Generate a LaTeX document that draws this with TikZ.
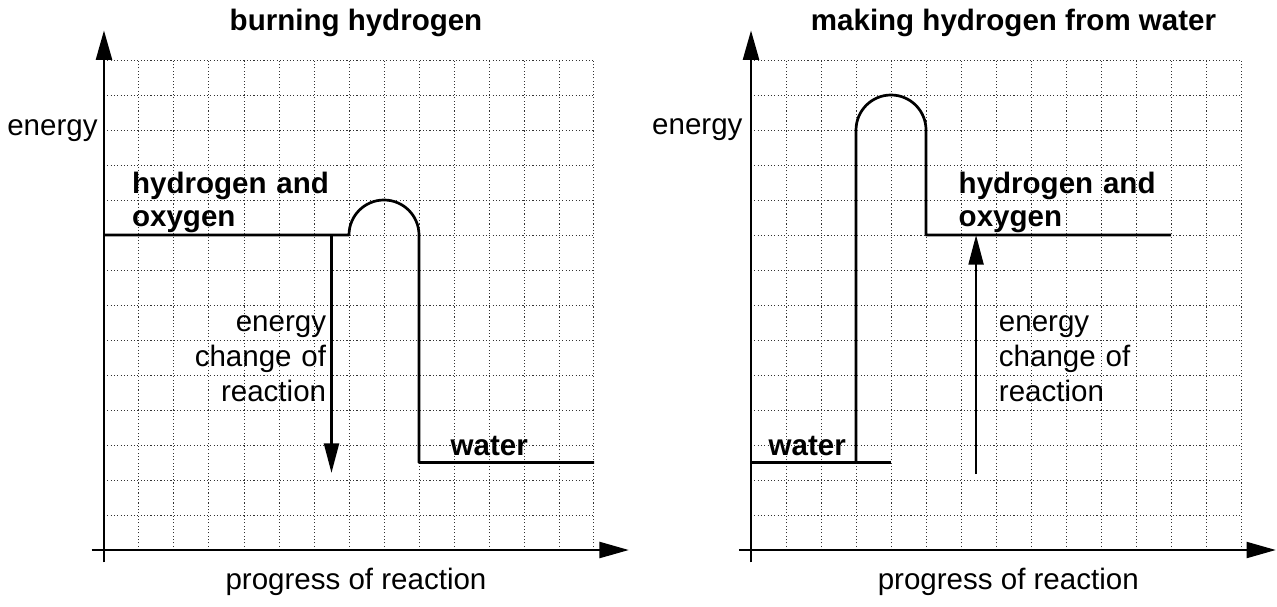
\documentclass[tikz,border=0pt]{standalone}
\usepackage{fontspec}
\setmainfont{Liberation Sans}
\usepackage{tikz}
\usetikzlibrary{arrows.meta}

\begin{document}
\begin{tikzpicture}[
    x=0.5cm, y=0.5cm,
    font=\fontsize{12}{14.2}\selectfont,
    griddot/.style={
      draw=black!80, line width=0.4pt, step=0.5cm,
      dash pattern=on 0.45pt off 0.9pt
    },
    axis/.style={line width=1.2pt, -{Triangle[length=12pt, width=6.4pt]}},
    level/.style={line width=1.1pt, line join=round},
    arr/.style={line width=1.1pt, -{Triangle[length=12pt, width=6pt]}},
    lbl/.style={inner sep=0pt},
    blbl/.style={
      inner sep=0pt, text width=5cm, align=left,
      font=\fontsize{12}{13.8}\selectfont\bfseries
    },
    chg/.style={inner sep=0pt, text width=3cm}
  ]
  \useasboundingbox (-2.971,-1.6) rectangle (33.514,15.714);

  % burning hydrogen
  \draw[griddot] (0,0) grid (14,14);
  \draw[axis] (-0.35,0) -- (15,0);
  \draw[axis] (0,-0.35) -- (0,14.85);

  \draw[level] (0,9) -- (7,9) arc[start angle=180, end angle=0, radius=1]
    -- (9,2.5) -- (14,2.5);

  \coordinate (dropTop) at (6.5,9);
  \coordinate (dropEnd) at (6.5,2.2);
  \draw[arr] (dropTop) -- (dropEnd);

  \node[lbl, font=\fontsize{12}{14.2}\selectfont\bfseries, anchor=base]
    (titleL) at (7.2,14.85) {burning hydrogen};
  \node[lbl, anchor=base east] (energyL) at (-0.17,11.83) {energy};
  \node[blbl, anchor=base west] (reactL) at (0.79,10.2)
    {hydrogen and\\oxygen};
  \node[chg, align=right, anchor=base east] (changeL) at (6.36,6.25)
    {energy\\change of\\reaction};
  \node[lbl, font=\fontsize{12}{14.2}\selectfont\bfseries, anchor=base west]
    (waterL) at (9.89,2.69) {water};
  \node[lbl, anchor=base] (progressL) at (7.2,-1.14) {progress of reaction};

  % making hydrogen from water
  \begin{scope}[xshift=9.243cm]
    \draw[griddot] (0,0) grid (14,14);
    \draw[axis] (-0.35,0) -- (15,0);
    \draw[axis] (0,-0.35) -- (0,14.85);

    \draw[level] (0,2.5) -- (4,2.5);
    \draw[level] (3,2.5) -- (3,12) arc[start angle=180, end angle=0, radius=1]
      -- (5,9) -- (12,9);

    \coordinate (riseEnd) at (6.43,2.17);
    \coordinate (riseTop) at (6.43,9);
    \draw[arr] (riseEnd) -- (riseTop);

    \node[lbl, font=\fontsize{12}{14.2}\selectfont\bfseries, anchor=base]
      (titleR) at (7.5,14.85) {making hydrogen from water};
    \node[lbl, anchor=base east] (energyR) at (-0.23,11.86) {energy};
    \node[blbl, anchor=base west] (productR) at (5.92,10.2)
      {hydrogen and\\oxygen};
    \node[chg, align=left, anchor=base west] (changeR) at (7.07,6.25)
      {energy\\change of\\reaction};
    \node[lbl, font=\fontsize{12}{14.2}\selectfont\bfseries, anchor=base west]
      (waterR) at (0.49,2.69) {water};
    \node[lbl, anchor=base] (progressR) at (7.35,-1.14) {progress of reaction};
  \end{scope}
\end{tikzpicture}
\end{document}
